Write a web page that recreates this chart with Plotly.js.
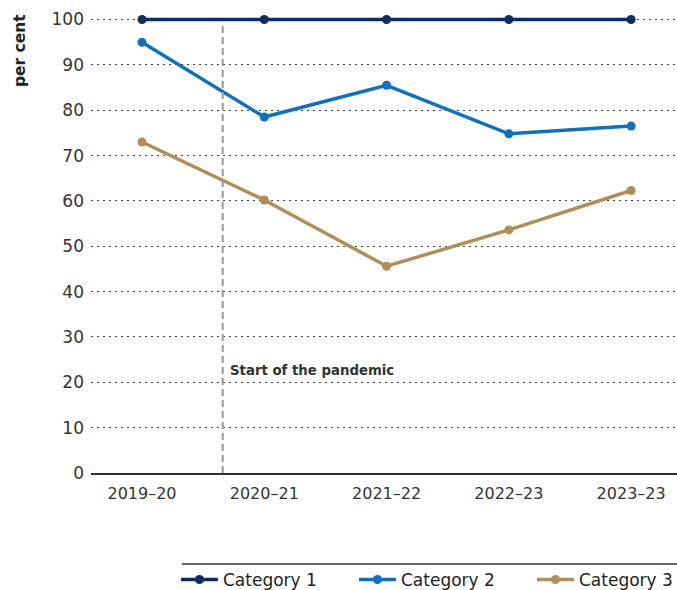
<!DOCTYPE html>
<html><head><meta charset="utf-8">
<script src="https://cdn.plot.ly/plotly-3.0.1.min.js"></script>
<style>html,body{margin:0;padding:0;background:#fff}#chart{width:677px;height:590px}</style>
</head><body><div id="chart"></div>
<script>
const years = ["2019–20","2020–21","2021–22","2022–23","2023–23"];
const category1 = [100,100,100,100,100];
const category2 = [95,78.5,85.5,74.8,76.5];
const category3 = [73,60.2,45.6,53.6,62.3];
const yTicks = [0,10,20,30,40,50,60,70,80,90,100];
const pandemicPos = 0.66;

const fontFam = "'DejaVu Sans', sans-serif";
const mk = (name, y, color) => ({
  type:'scatter', mode:'lines+markers', name, x: years, y,
  line:{color, width:3.5}, marker:{color, size:9}, cliponaxis:false
});
const data = [
  mk('Category 1', category1, '#0b2d62'),
  mk('Category 2', category2, '#0f71bd'),
  mk('Category 3', category3, '#b08e57')
];
const layout = {
  width:677, height:590,
  margin:{l:91, r:0, t:14.5, b:117, autoexpand:false},
  paper_bgcolor:'#fff', plot_bgcolor:'#fff',
  font:{family:fontFam, size:15, color:'#333'},
  showlegend:true,
  legend:{orientation:'h', x:0.145, xanchor:'left', y:-0.2334, yanchor:'middle', bgcolor:'rgba(0,0,0,0)',
    font:{size:17, color:'#222'}, entrywidth:126, entrywidthmode:'pixels', itemwidth:37},
  xaxis:{type:'category', range:[-0.417,4.375], showgrid:false, zeroline:false,
    showline:true, linecolor:'#333', linewidth:1.5, ticks:'', ticklabelstandoff:5,
    tickfont:{size:16, color:'#333'}},
  yaxis:{range:[0,101], tickvals:yTicks, showgrid:true, gridcolor:'#444', griddash:'1.5px,4.5px', gridwidth:1,
    zeroline:false, showline:false, ticks:'', ticklabelstandoff:6, tickfont:{size:17, color:'#333'}},
  shapes:[
    {type:'line', xref:'x', yref:'y', x0:pandemicPos, x1:pandemicPos, y0:0, y1:99.5,
      line:{color:'#999', width:2, dash:'7px,4px'}},
    {type:'line', xref:'paper', yref:'paper', x0:0.155, x1:1, y0:-0.1985, y1:-0.1985,
      line:{color:'#333', width:1.5}}
  ],
  annotations:[
    {xref:'x', yref:'y', x:pandemicPos, y:22.5, xanchor:'left', yanchor:'middle', xshift:5,
      text:'Start of the pandemic', showarrow:false, font:{size:13.3, weight:'bold', color:'#333'}},
    {xref:'paper', yref:'paper', x:-0.121, y:1.0055, xanchor:'center', yanchor:'top',
      text:'per cent', textangle:-90, showarrow:false, font:{size:15.5, weight:'bold', color:'#222'}}
  ]
};
Plotly.newPlot('chart', data, layout, {staticPlot:true});
</script></body></html>
